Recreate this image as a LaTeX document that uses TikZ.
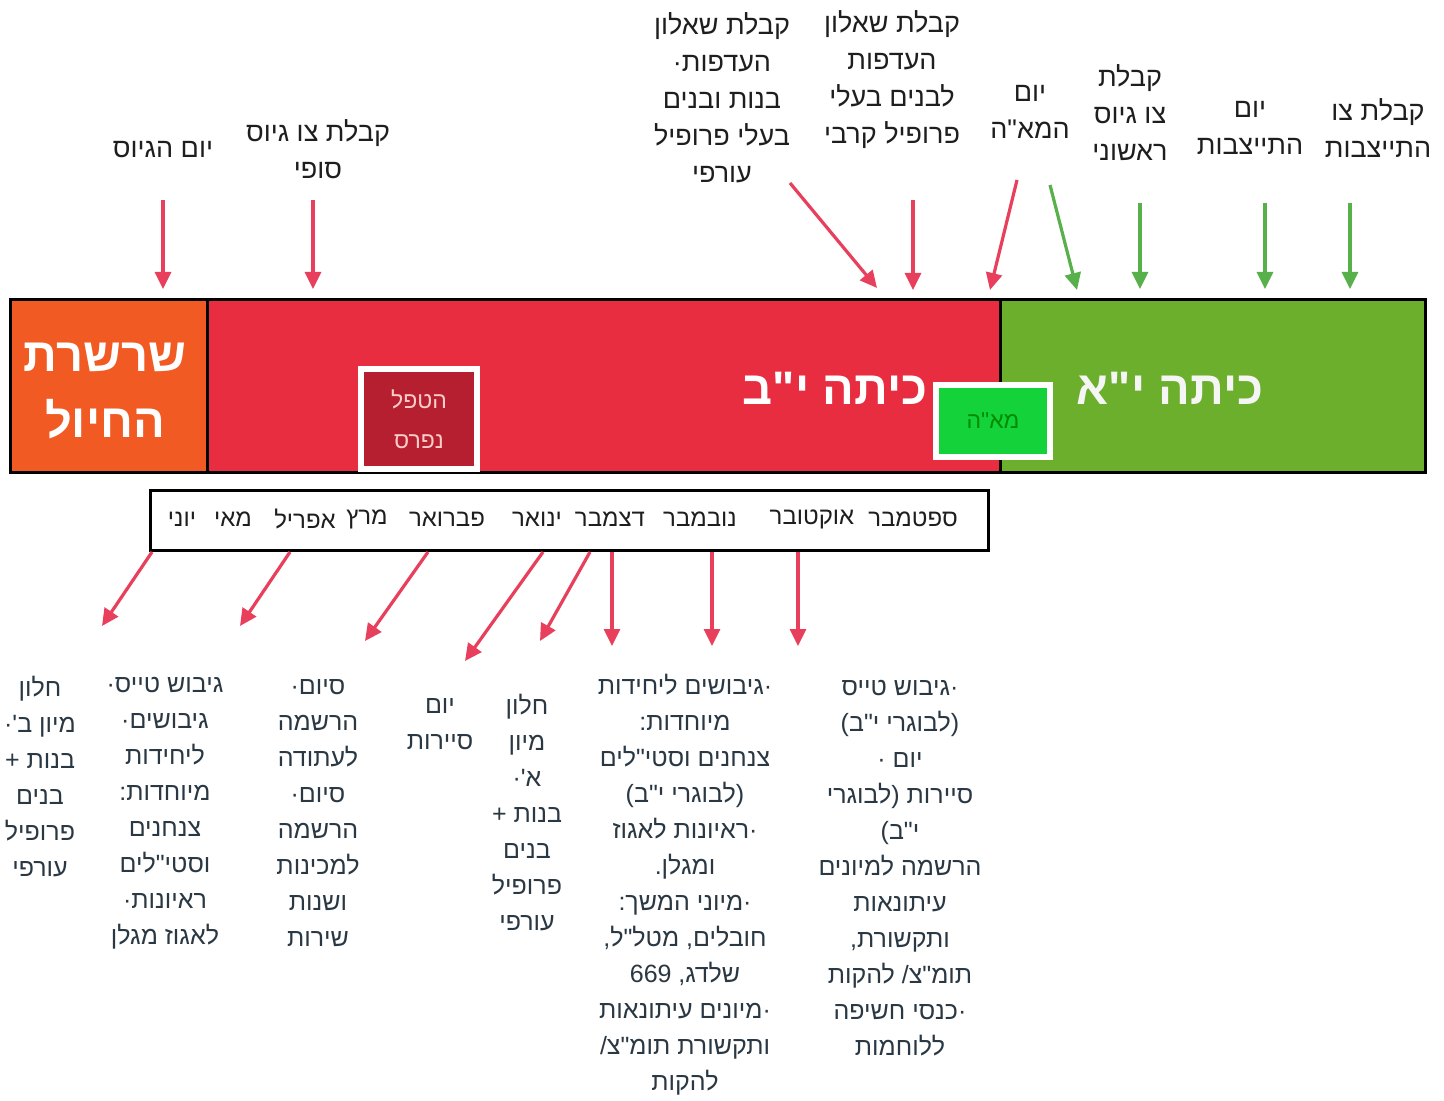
\documentclass[tikz,border=0pt]{standalone}
\usepackage{fontspec}
\setmainfont[Script=Hebrew, Ligatures=TeXOff]{Liberation Sans}
\TeXXeTstate=1
\usetikzlibrary{arrows.meta}
\definecolor{chainorange}{HTML}{F15A22}
\definecolor{gradered}{HTML}{E72D3F}
\definecolor{gradegreen}{HTML}{6BAF2D}
\definecolor{boxred}{HTML}{B51F30}
\definecolor{boxgreen}{HTML}{14D33A}
\definecolor{arrred}{HTML}{E8405C}
\definecolor{arrgreen}{HTML}{58B04A}
\definecolor{toptext}{HTML}{1E1E1E}
\definecolor{lowtext}{HTML}{2A3843}
\newcommand{\heb}[1]{\beginR #1\endR}
\begin{document}
\begin{tikzpicture}[x=0.5pt, y=-0.5pt,
  toplabel/.style={align=center, text=toptext, font=\fontsize{13.5}{18.5}\selectfont, inner sep=0pt},
  lowlabel/.style={align=center, text=lowtext, font=\fontsize{12.5}{18}\selectfont, inner sep=0pt},
  month/.style={text=toptext, font=\fontsize{12}{14}\selectfont, inner sep=0pt},
  bigtext/.style={align=center, text=white, font=\fontsize{23.5}{33}\selectfont\bfseries, inner sep=0pt},
  redarrow/.style={-{Triangle[length=8.5pt,width=8pt]}, line width=1.6pt, draw=arrred},
  greenarrow/.style={-{Triangle[length=8.5pt,width=8pt]}, line width=1.6pt, draw=arrgreen}]
\fill[white] (0,0) rectangle (1444,1101);
\useasboundingbox (0,0) rectangle (1444,1101);
% the bar
\filldraw[fill=chainorange, draw=black, line width=1.5pt] (10,300) rectangle (207,472);
\filldraw[fill=gradered, draw=black, line width=1.5pt] (207,300) rectangle (1000,472);
\filldraw[fill=gradegreen, draw=black, line width=1.5pt] (1000,300) rectangle (1425,472);
\node[bigtext] (chain) at (105,391) {\heb{שרשרת}\\\heb{החיול}};
\node[bigtext] (g12) at (835,388) {\heb{כיתה י"ב}};
\node[bigtext, text=white!92!gray] (g11) at (1170,388) {\heb{כיתה י"א}};
\node[draw=white, line width=3pt, fill=boxred, minimum width=58pt, minimum height=50pt, align=center, text=pink!80!white, font=\fontsize{11.5}{20}\selectfont] (spread) at (419,419) {\heb{הטפל}\\\heb{נפרס}};
\node[draw=white, line width=3pt, fill=boxgreen, minimum width=57pt, minimum height=36pt, text=green!55!black, font=\fontsize{11.5}{13}\selectfont] (maah) at (993,421) {\heb{מא"ה}};
% months
\node[draw=black, line width=1.5pt, fill=white, minimum width=419pt, minimum height=30pt] (months) at (569,520) {};
\node[month] (sep) at (913,519) {\heb{ספטמבר}};
\node[month] (oct) at (812,519) {\heb{אוקטובר}};
\node[month] (nov) at (700,519) {\heb{נובמבר}};
\node[month] (dec) at (610,519) {\heb{דצמבר}};
\node[month] (jan) at (537,519) {\heb{ינואר}};
\node[month] (feb) at (447,519) {\heb{פברואר}};
\node[month] (mar) at (367,519) {\heb{מרץ}};
\node[month] (apr) at (305,519) {\heb{אפריל}};
\node[month] (may) at (233,519) {\heb{מאי}};
\node[month] (jun) at (182,519) {\heb{יוני}};
% labels above
\node[toplabel] (draft) at (163,150) {\heb{יום הגיוס}};
\node[toplabel] (final) at (318,149) {\heb{קבלת צו גיוס}\\\heb{סופי}};
\node[toplabel] (prefrear) at (722,98) {\heb{קבלת שאלון}\\\heb{העדפות·}\\\heb{בנות ובנים}\\\heb{בעלי פרופיל}\\\heb{עורפי}};
\node[toplabel] (prefcombat) at (892,80) {\heb{קבלת שאלון}\\\heb{העדפות}\\\heb{לבנים בעלי}\\\heb{פרופיל קרבי}};
\node[toplabel] (maahday) at (1030,112) {\heb{יום}\\\heb{המא"ה}};
\node[toplabel] (first) at (1130,113) {\heb{קבלת}\\\heb{צו גיוס}\\\heb{ראשוני}};
\node[toplabel] (reportday) at (1250,128) {\heb{יום}\\\heb{התייצבות}};
\node[toplabel] (report) at (1378,128) {\heb{קבלת צו}\\\heb{התייצבות}};
% labels below
\node[lowlabel] (winb) at (40,777) {\heb{חלון}\\\heb{מיון ב'·}\\\heb{בנות +}\\\heb{בנים}\\\heb{פרופיל}\\\heb{עורפי}};
\node[lowlabel] (camps) at (165,813) {\heb{גיבוש טייס·}\\\heb{גיבושים·}\\\heb{ליחידות}\\\heb{מיוחדות:}\\\heb{צנחנים}\\\heb{וסטי"לים}\\\heb{ראיונות·}\\\heb{לאגוז מגלן}};
\node[lowlabel] (regend) at (318,813) {\heb{סיום·}\\\heb{הרשמה}\\\heb{לעתודה}\\\heb{סיום·}\\\heb{הרשמה}\\\heb{למכינות}\\\heb{ושנות}\\\heb{שירות}};
\node[lowlabel] (scouts) at (440,724) {\heb{יום}\\\heb{סיירות}};
\node[lowlabel] (wina) at (527,813) {\heb{חלון}\\\heb{מיון}\\\heb{א'·}\\\heb{בנות +}\\\heb{בנים}\\\heb{פרופיל}\\\heb{עורפי}};
\node[lowlabel] (units) at (685,885) {\heb{·גיבושים ליחידות}\\\heb{מיוחדות:}\\\heb{צנחנים וסטי"לים}\\\heb{(לבוגרי י"ב)}\\\heb{·ראיונות לאגוז}\\\heb{ומגלן.}\\\heb{·מיוני המשך:}\\\heb{חובלים, מטל"ל,}\\\heb{שלדג, \beginL 669\endL}\\\heb{·מיונים עיתונאות}\\\heb{ותקשורת תומ"צ/}\\\heb{להקות}};
\node[lowlabel] (pilot) at (900,868) {\heb{·גיבוש טייס}\\\heb{(לבוגרי י"ב)}\\\heb{יום ·}\\\heb{סיירות (לבוגרי}\\\heb{י"ב)}\\\heb{הרשמה למיונים}\\\heb{עיתונאות}\\\heb{ותקשורת,}\\\heb{תומ"צ/ להקות}\\\heb{·כנסי חשיפה}\\\heb{ללוחמות}};
% arrow ends
\coordinate (a1) at (163,200); \coordinate (b1) at (163,289);
\coordinate (a2) at (313,200); \coordinate (b2) at (313,289);
\coordinate (a3) at (790,183); \coordinate (b3) at (877,288);
\coordinate (a4) at (913,200); \coordinate (b4) at (913,290);
\coordinate (a5) at (1017,180); \coordinate (b5) at (990,290);
\coordinate (a6) at (1050,185); \coordinate (b6) at (1077,290);
\coordinate (a7) at (1140,203); \coordinate (b7) at (1140,289);
\coordinate (a8) at (1265,203); \coordinate (b8) at (1265,289);
\coordinate (a9) at (1350,203); \coordinate (b9) at (1350,289);
\coordinate (c1) at (152,552); \coordinate (d1) at (102,626);
\coordinate (c2) at (290,552); \coordinate (d2) at (240,626);
\coordinate (c3) at (428,552); \coordinate (d3) at (365,641);
\coordinate (c4) at (543,552); \coordinate (d4) at (465,661);
\coordinate (c5) at (590,552); \coordinate (d5) at (540,641);
\coordinate (c6) at (612,552); \coordinate (d6) at (612,646);
\coordinate (c7) at (712,552); \coordinate (d7) at (712,646);
\coordinate (c8) at (798,552); \coordinate (d8) at (798,646);
\draw [redarrow] (a1) -- (b1);
\draw [redarrow] (a2) -- (b2);
\draw [redarrow] (a3) -- (b3);
\draw [redarrow] (a4) -- (b4);
\draw [redarrow] (a5) -- (b5);
\draw [greenarrow] (a6) -- (b6);
\draw [greenarrow] (a7) -- (b7);
\draw [greenarrow] (a8) -- (b8);
\draw [greenarrow] (a9) -- (b9);
\draw [redarrow] (c1) -- (d1);
\draw [redarrow] (c2) -- (d2);
\draw [redarrow] (c3) -- (d3);
\draw [redarrow] (c4) -- (d4);
\draw [redarrow] (c5) -- (d5);
\draw [redarrow] (c6) -- (d6);
\draw [redarrow] (c7) -- (d7);
\draw [redarrow] (c8) -- (d8);
\end{tikzpicture}
\end{document}
